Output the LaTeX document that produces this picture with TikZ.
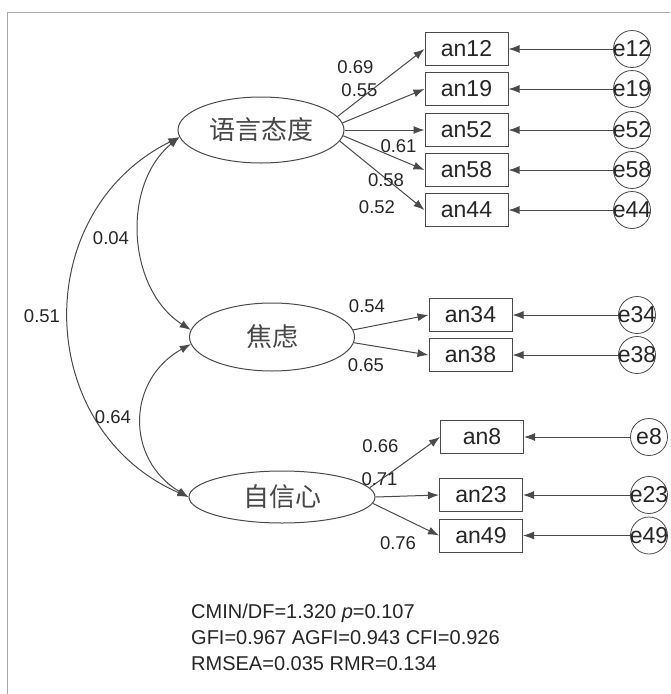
\documentclass[tikz,border=0pt]{standalone}
\usepackage{fontspec}
\setmainfont{Liberation Sans}
\newfontfamily\cjk{Noto Sans CJK SC}
\usetikzlibrary{arrows.meta,shapes.geometric}
\definecolor{ln}{HTML}{4A4A4A}
\definecolor{tx}{HTML}{262626}
\definecolor{frame}{HTML}{A8A8A8}
\begin{document}
\begin{tikzpicture}[x=1pt,y=-1pt,
  lat/.style={ellipse, draw=ln, line width=1pt, inner sep=0pt, font=\cjk\fontsize{26}{26}\selectfont, text=tx!85},
  obs/.style={rectangle, draw=ln, line width=1pt, minimum width=83pt, minimum height=33pt, inner sep=0pt, font=\fontsize{23}{23}\selectfont, text=tx},
  err/.style={circle, draw=ln, line width=0.8pt, minimum size=37pt, inner sep=0pt},
  errtxt/.style={font=\fontsize{23}{23}\selectfont, text=tx, inner sep=0pt},
  coef/.style={font=\fontsize{18.5}{18.5}\selectfont, text=tx, inner sep=0pt},
  pth/.style={draw=ln, line width=1pt, -{Latex[length=11pt,width=8pt]}},
  cov/.style={draw=ln, line width=1pt, {Latex[length=11pt,width=8pt]}-{Latex[length=11pt,width=8pt]}},
  fitline/.style={font=\fontsize{20}{24}\selectfont, text=tx, inner sep=0pt, anchor=base west}
]
\fill[white] (0,0) rectangle (670,694);
\useasboundingbox (0,0) rectangle (670,694);
\coordinate (fa) at (670,12);
\coordinate (fb) at (7,12);
\coordinate (fc) at (7,694);
\draw[frame, line width=1pt] (fa) -- (fb) -- (fc);

% latent variables
\node[lat, minimum width=166pt, minimum height=66pt] (L1) at (261,130) {语言态度};
\node[lat, minimum width=165pt, minimum height=68pt] (L2) at (272,337) {焦虑};
\node[lat, minimum width=186pt, minimum height=52pt] (L3) at (282,497) {自信心};

% observed variables
\node[obs] (an12) at (466.5,49) {an12};
\node[obs] (an19) at (466.5,89) {an19};
\node[obs] (an52) at (466.5,130) {an52};
\node[obs] (an58) at (466.5,170) {an58};
\node[obs] (an44) at (466.5,210) {an44};
\node[obs] (an34) at (470.5,315) {an34};
\node[obs] (an38) at (470.5,355) {an38};
\node[obs] (an8) at (482,437) {an8};
\node[obs] (an23) at (481,495) {an23};
\node[obs] (an49) at (481,535.5) {an49};

% error terms
\foreach \n/\x/\y in {12/632/49, 19/632/89, 52/632/130, 58/632/170, 44/632/210, 34/637/315, 38/637/355, 8/649/437, 23/649/495, 49/649/535.5}{
  \node[err] (c\n) at (\x,\y) {};
  \node[errtxt] (t\n) at (c\n) {e\n};
  \draw[pth] (c\n) -- (an\n);
}

% loadings
\draw[pth] (L1.10) -- (an12.west);
\draw[pth] (L1.5) -- (an19.west);
\draw[pth] (L1.0) -- (an52.west);
\draw[pth] (L1.-4) -- (an58.west);
\draw[pth] (L1.-8) -- (an44.west);
\draw[pth] (L2.5) -- (an34.west);
\draw[pth] (L2.-4) -- (an38.west);
\draw[pth] (L3.6) -- (an8.west);
\draw[pth] (L3.0) -- (an23.west);
\draw[pth] (L3.-4) -- (an49.west);

% covariances
\draw[cov] (L1.185) to[bend right=65, looseness=1.2] (L3.180);
\draw[cov] (L1.185) to[bend right=54] (L2.175);
\draw[cov] (L2.185) to[bend right=60, looseness=1.23] (L3.180);

% coefficients
\node[coef] (k1) at (355.5,67) {0.69};
\node[coef] (k2) at (359.5,90) {0.55};
\node[coef] (k3) at (398.5,146) {0.61};
\node[coef] (k4) at (386,180.5) {0.58};
\node[coef] (k5) at (377,207) {0.52};
\node[coef] (k6) at (111,238) {0.04};
\node[coef] (k7) at (42,316) {0.51};
\node[coef] (k8) at (113,417) {0.64};
\node[coef] (k9) at (367,306) {0.54};
\node[coef] (k10) at (366,365) {0.65};
\node[coef] (k11) at (380.5,446) {0.66};
\node[coef] (k12) at (379.5,479) {0.71};
\node[coef] (k13) at (398,543) {0.76};

% fit indices
\node[fitline] (f1) at (191,618) {CMIN/DF=1.320 \textit{p}=0.107};
\node[fitline] (f2) at (191,644) {GFI=0.967 AGFI=0.943 CFI=0.926};
\node[fitline] (f3) at (191,670) {RMSEA=0.035 RMR=0.134};
\end{tikzpicture}
\end{document}
